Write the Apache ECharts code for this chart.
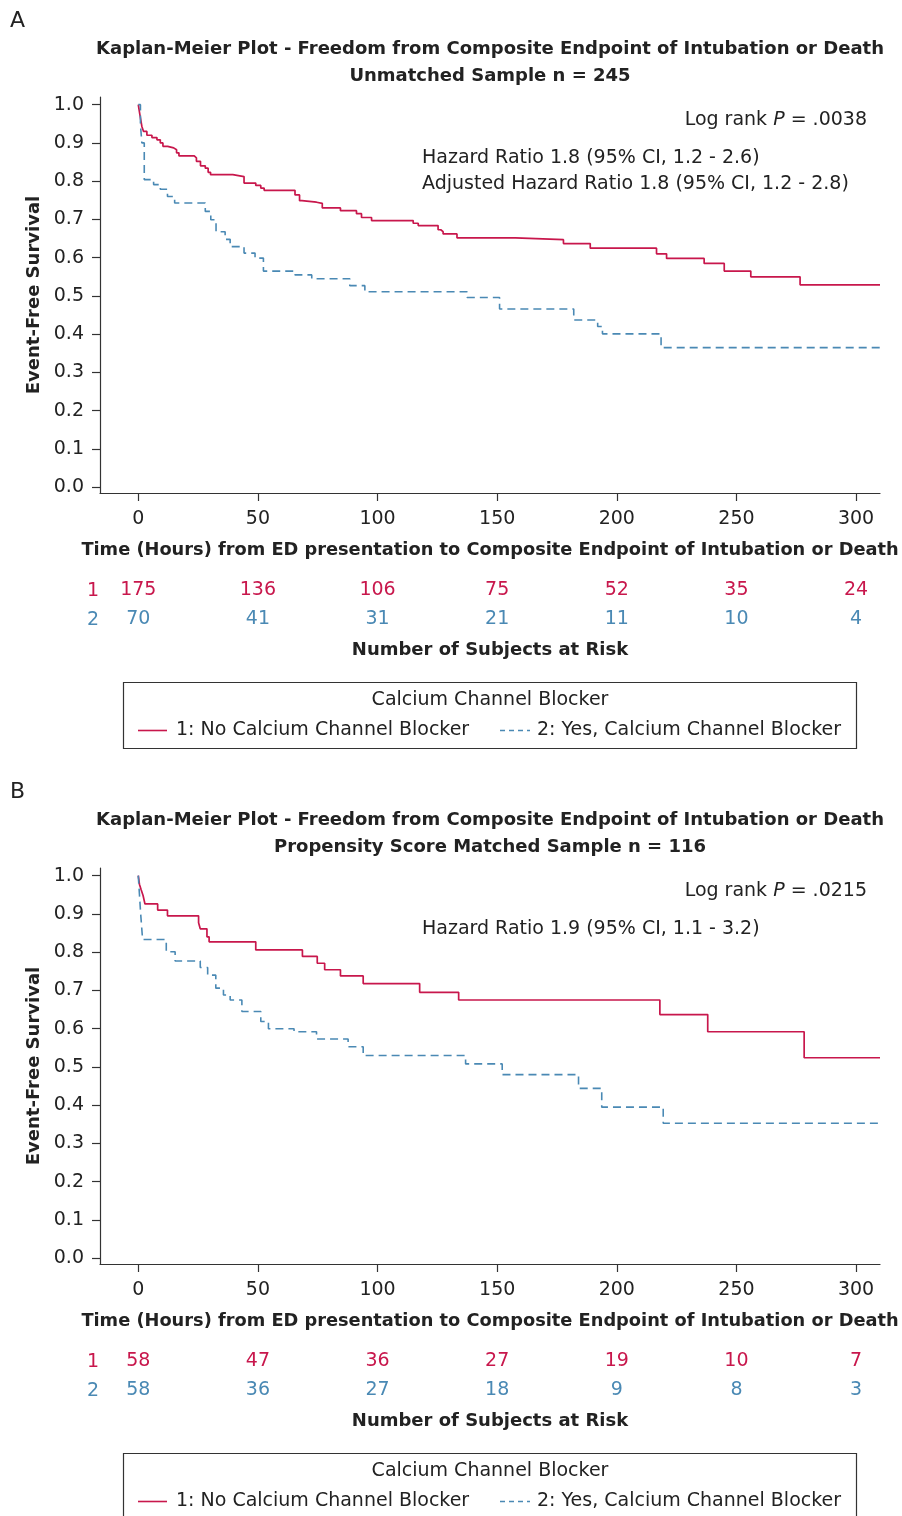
<!DOCTYPE html>
<html>
<head>
<meta charset="utf-8">
<script src="https://cdn.jsdelivr.net/npm/echarts@6/dist/echarts.min.js"></script>
<style>
html,body{margin:0;padding:0;background:#fff;}
#c{width:902px;height:1516px;}
</style>
</head>
<body>
<div id="c"></div>
<script>
// ---------- data ----------
const xTicks = [0, 50, 100, 150, 200, 250, 300];
const yTicks = [0, 0.1, 0.2, 0.3, 0.4, 0.5, 0.6, 0.7, 0.8, 0.9, 1.0];

// Panel A (unmatched)
const tA1 = [0, 0.8, 1.5, 2.2, 3.6, 5.7, 7.8, 9.2, 10.3, 12.3, 14.8, 16, 17, 23.4, 24.3, 26, 28, 29.2, 30.2, 39.5, 44.2, 49.1, 51.2, 52.6, 65.5, 67.4, 68.4, 74.5, 76.9, 84.5, 91.2, 93.3, 97.5, 114.9, 117, 125.3, 126.4, 127.4, 133.2, 157.6, 177.7, 188.9, 216.6, 220.8, 236.5, 244.9, 256, 276.6, 310];
const sA1 = [1.0, 0.969, 0.943, 0.930, 0.920, 0.914, 0.908, 0.900, 0.891, 0.887, 0.882, 0.874, 0.866, 0.861, 0.852, 0.840, 0.834, 0.823, 0.817, 0.812, 0.795, 0.789, 0.782, 0.776, 0.764, 0.749, 0.745, 0.742, 0.730, 0.723, 0.715, 0.705, 0.697, 0.690, 0.684, 0.673, 0.668, 0.662, 0.652, 0.647, 0.637, 0.625, 0.610, 0.598, 0.585, 0.565, 0.550, 0.529, 0.529];
const tA2 = [0, 0.9, 1.5, 2.5, 6.4, 9.2, 12.2, 15.2, 28, 30.3, 32.5, 36.3, 38.4, 44.2, 48.8, 52.3, 65.5, 72.5, 88.4, 94.7, 137.4, 151, 182, 192, 194, 218.5, 310];
const sA2 = [1.0, 0.948, 0.900, 0.804, 0.791, 0.779, 0.760, 0.743, 0.721, 0.699, 0.668, 0.648, 0.629, 0.612, 0.599, 0.565, 0.555, 0.545, 0.527, 0.511, 0.496, 0.466, 0.437, 0.420, 0.401, 0.365, 0.365];
const riskA1 = [175, 136, 106, 75, 52, 35, 24];
const riskA2 = [70, 41, 31, 21, 11, 10, 4];

// Panel B (propensity matched)
const tB1 = [0, 0.5, 1.2, 2.0, 2.8, 8.1, 12.2, 25.2, 25.9, 28.7, 29.6, 49.1, 68.6, 74.8, 77.9, 84.5, 94, 117.6, 133.9, 218, 238, 278.3, 310];
const sB1 = [1.0, 0.977, 0.963, 0.948, 0.926, 0.910, 0.895, 0.877, 0.861, 0.840, 0.827, 0.806, 0.789, 0.771, 0.754, 0.738, 0.718, 0.695, 0.675, 0.637, 0.592, 0.524, 0.524];
const tB2 = [0, 0.5, 1.0, 1.8, 11.7, 15.4, 25.9, 29, 32.4, 35.6, 38.4, 43.3, 51.2, 54.4, 65.1, 74.5, 87.7, 94, 136.8, 152.1, 184, 193.7, 219.4, 310];
const sB2 = [1.0, 0.95, 0.90, 0.833, 0.801, 0.777, 0.760, 0.740, 0.706, 0.688, 0.675, 0.645, 0.619, 0.600, 0.592, 0.573, 0.553, 0.530, 0.508, 0.480, 0.444, 0.395, 0.353, 0.353];
const riskB1 = [58, 47, 36, 27, 19, 10, 7];
const riskB2 = [58, 36, 27, 18, 9, 8, 3];

const name1 = '1: No Calcium Channel Blocker';
const name2 = '2: Yes, Calcium Channel Blocker';

// ---------- style ----------
const RED = '#c8174c';
const BLUE = '#4a89b4';
const INK = '#222';
const AX = '#333';
const FONT = 'DejaVu Sans, Liberation Sans, sans-serif';
const FS = 19;   // regular text
const FB = 18;   // bold text

const zip = (t, s) => t.map((v, i) => [v, s[i]]);

const panels = [
  { top: 97, dy: 0, letter: 'A', sub: 'Unmatched Sample n = 245',
    s1: zip(tA1, sA1), s2: zip(tA2, sA2), r1: riskA1, r2: riskA2,
    notes: ['Hazard Ratio 1.8 (95% CI, 1.2 - 2.6)', 'Adjusted Hazard Ratio 1.8 (95% CI, 1.2 - 2.8)'], p: '.0038' },
  { top: 868, dy: 771, letter: 'B', sub: 'Propensity Score Matched Sample n = 116',
    s1: zip(tB1, sB1), s2: zip(tB2, sB2), r1: riskB1, r2: riskB2,
    notes: ['Hazard Ratio 1.9 (95% CI, 1.1 - 3.2)'], p: '.0215' }
];

const grid = [], xAxis = [], yAxis = [], series = [], graphic = [];

panels.forEach((P, gi) => {
  grid.push({ left: 100, top: P.top, width: 780, height: 396, containLabel: false, outerBoundsMode: 'none' });
  const riskFmt = arr => v => { const i = xTicks.indexOf(v); return i >= 0 ? String(arr[i]) : ''; };
  xAxis.push({
    gridIndex: gi, type: 'value', min: -16, max: 310,
    axisLine: { onZero: false, lineStyle: { color: AX, width: 1.2 } },
    axisTick: { customValues: xTicks, length: 8, lineStyle: { color: AX, width: 1.2 } },
    axisLabel: { customValues: xTicks, fontSize: FS, color: INK, fontFamily: FONT, margin: 17 },
    splitLine: { show: false },
    name: 'Time (Hours) from ED presentation to Composite Endpoint of Intubation or Death',
    nameLocation: 'middle', nameGap: 48,
    nameTextStyle: { fontSize: 17.8, fontWeight: 'bold', color: INK, fontFamily: FONT }
  });
  xAxis.push({
    gridIndex: gi, type: 'value', min: -16, max: 310, position: 'bottom', offset: 80,
    axisLine: { show: false }, axisTick: { show: false }, splitLine: { show: false },
    axisLabel: { customValues: xTicks, formatter: riskFmt(P.r1), fontSize: FS, color: RED, fontFamily: FONT, margin: 8 }
  });
  xAxis.push({
    gridIndex: gi, type: 'value', min: -16, max: 310, position: 'bottom', offset: 109,
    axisLine: { show: false }, axisTick: { show: false }, splitLine: { show: false },
    axisLabel: { customValues: xTicks, formatter: riskFmt(P.r2), fontSize: FS, color: BLUE, fontFamily: FONT, margin: 8 }
  });
  yAxis.push({
    gridIndex: gi, type: 'value', min: -0.015, max: 1.02,
    axisLine: { show: true, onZero: false, lineStyle: { color: AX, width: 1.2 } },
    axisTick: { show: true, customValues: yTicks, length: 8, lineStyle: { color: AX, width: 1.2 } },
    axisLabel: { customValues: yTicks, formatter: v => v.toFixed(1), fontSize: FS, color: INK, fontFamily: FONT, margin: 16 },
    splitLine: { show: false },
    name: 'Event-Free Survival', nameLocation: 'middle', nameGap: 53,
    nameTextStyle: { fontSize: FB, fontWeight: 'bold', color: INK, fontFamily: FONT }
  });
  series.push({
    name: name1, type: 'line', step: 'end', xAxisIndex: gi * 3, yAxisIndex: gi,
    data: P.s1, symbol: 'none', lineStyle: { color: RED, width: 1.7 }, itemStyle: { color: RED },
    animation: false, silent: true
  });
  series.push({
    name: name2, type: 'line', step: 'end', xAxisIndex: gi * 3, yAxisIndex: gi,
    data: P.s2, symbol: 'none', lineStyle: { color: BLUE, width: 1.6, type: [8, 5] }, itemStyle: { color: BLUE },
    animation: false, silent: true
  });

  const dy = P.dy;
  const txt = (text, x, y, opts) => graphic.push({
    type: 'text', silent: true,
    style: Object.assign({ text, x, y, fill: INK, fontSize: FS, fontFamily: FONT, textAlign: 'left', textVerticalAlign: 'middle' }, opts || {})
  });
  txt(P.letter, 10, 21 + dy, { fontSize: 22 });
  txt('Kaplan-Meier Plot - Freedom from Composite Endpoint of Intubation or Death', 490, 49 + dy, { textAlign: 'center', fontWeight: 'bold', fontSize: FB });
  txt(P.sub, 490, 76 + dy, { textAlign: 'center', fontWeight: 'bold', fontSize: FB });
  graphic.push({
    type: 'text', silent: true,
    style: {
      text: '{n|Log rank }{i|P}{n| = ' + P.p + '}', x: 867, y: 120 + dy, textAlign: 'right', textVerticalAlign: 'middle',
      rich: { n: { fontSize: FS, fontFamily: FONT, fill: INK }, i: { fontSize: FS, fontFamily: FONT, fontStyle: 'italic', fill: INK } }
    }
  });
  P.notes.forEach((n, k) => txt(n, 422, 158 + k * 26 + dy));
  txt('1', 93, 591 + dy, { textAlign: 'center', fill: RED });
  txt('2', 93, 620 + dy, { textAlign: 'center', fill: BLUE });
  txt('Number of Subjects at Risk', 490, 650 + dy, { textAlign: 'center', fontWeight: 'bold', fontSize: FB });
  // legend box
  graphic.push({ type: 'rect', silent: true, shape: { x: 123.5, y: 682.5 + dy, width: 733, height: 66 },
    style: { fill: 'none', stroke: AX, lineWidth: 1.2 } });
  txt('Calcium Channel Blocker', 490, 700 + dy, { textAlign: 'center' });
  graphic.push({ type: 'line', silent: true, shape: { x1: 138, y1: 730.5 + dy, x2: 167, y2: 730.5 + dy },
    style: { stroke: RED, lineWidth: 1.6 } });
  txt(name1, 176, 730 + dy);
  graphic.push({ type: 'line', silent: true, shape: { x1: 500, y1: 730.5 + dy, x2: 530, y2: 730.5 + dy },
    style: { stroke: BLUE, lineWidth: 1.5, lineDash: [5, 4] } });
  txt(name2, 537, 730 + dy);
});

const chart = echarts.init(document.getElementById('c'), null, { renderer: 'canvas' });
chart.setOption({
  backgroundColor: '#fff',
  animation: false,
  textStyle: { fontFamily: FONT },
  grid, xAxis, yAxis, series, graphic
});
</script>
</body>
</html>
